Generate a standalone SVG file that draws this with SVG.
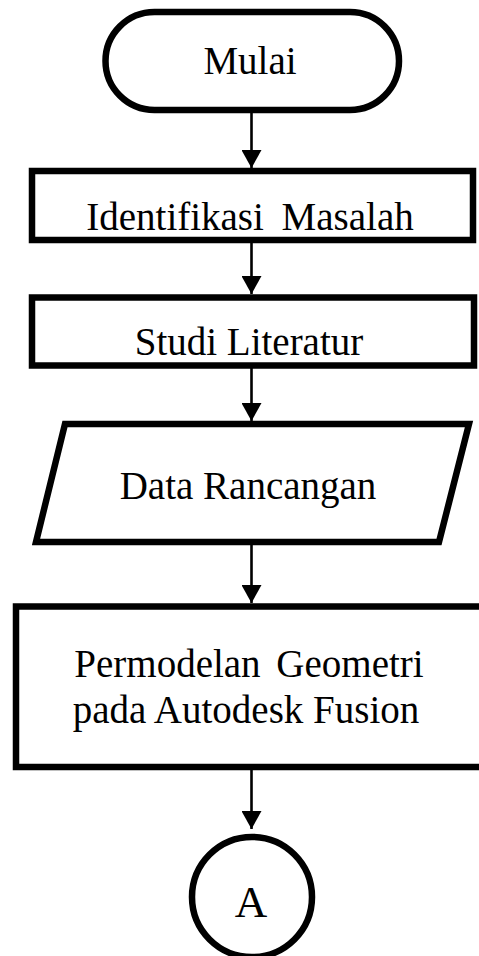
<svg xmlns="http://www.w3.org/2000/svg" width="479" height="956" viewBox="0 0 479 956">
<style>
.shape{fill:#fff;stroke:#000;stroke-width:6.5;stroke-linejoin:miter}
.lbl{font-family:"Liberation Serif","Times New Roman",serif;font-size:39px;fill:#000;text-anchor:middle}
.conn{stroke:#000;stroke-width:2.6;fill:none}
</style>
<defs>
<marker id="ah" markerUnits="userSpaceOnUse" markerWidth="18" markerHeight="20" refX="18" refY="10" orient="auto">
<path d="M0,0 L18,10 L0,20 z" fill="#000"/>
</marker>
</defs>
<rect width="479" height="956" fill="#fff"/>
<g id="connectors">
<line class="conn" x1="251.5" y1="112" x2="251.5" y2="168" marker-end="url(#ah)"/>
<line class="conn" x1="251.5" y1="243" x2="251.5" y2="294" marker-end="url(#ah)"/>
<line class="conn" x1="251.5" y1="368" x2="251.5" y2="421" marker-end="url(#ah)"/>
<line class="conn" x1="251.5" y1="545" x2="251.5" y2="603" marker-end="url(#ah)"/>
<line class="conn" x1="251.5" y1="770" x2="251.5" y2="829" marker-end="url(#ah)"/>
</g>
<g id="mulai">
<rect class="shape" x="105.5" y="12" width="293.5" height="98" rx="49" ry="49"/>
<text class="lbl" x="250" y="74">Mulai</text>
</g>
<g id="identifikasi">
<rect class="shape" x="32" y="171" width="441" height="69"/>
<text class="lbl" x="250" y="230" word-spacing="8">Identifikasi Masalah</text>
</g>
<g id="studi">
<rect class="shape" x="32" y="297.5" width="442" height="68"/>
<text class="lbl" x="249" y="355">Studi Literatur</text>
</g>
<g id="data">
<polygon class="shape" points="65,424 469,424 439,542 36,542"/>
<text class="lbl" x="248" y="499">Data Rancangan</text>
</g>
<g id="permodelan">
<rect class="shape" x="16" y="606.5" width="480" height="160.5"/>
<text class="lbl" x="249" y="677" word-spacing="6">Permodelan Geometri</text>
<text class="lbl" x="246" y="723">pada Autodesk Fusion</text>
</g>
<g id="konektorA">
<circle class="shape" cx="252" cy="897" r="60"/>
<text class="lbl" x="251" y="917" style="font-size:45px">A</text>
</g>
</svg>
